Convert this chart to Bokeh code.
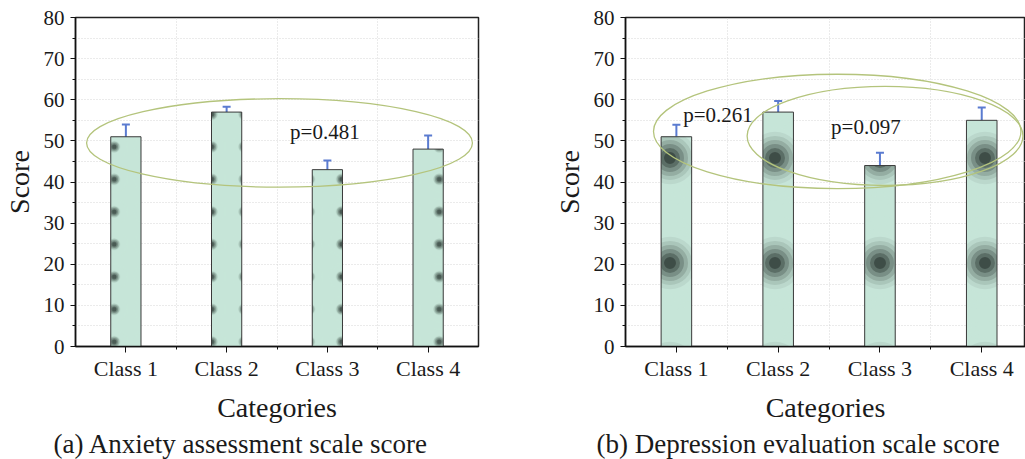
from bokeh.plotting import figure
from bokeh.layouts import row
from bokeh.models import (ColumnDataSource, Range1d, FixedTicker, SingleIntervalTicker,
                          Whisker, TeeHead, Title)
from bokeh.core.properties import value
from bokeh.embed import file_html
from bokeh.resources import INLINE

categories = ["Class 1", "Class 2", "Class 3", "Class 4"]
anxiety_scores = [51, 57, 43, 48]
anxiety_errors = [3.0, 1.3, 2.2, 3.3]
depression_scores = [51, 57, 44, 55]
depression_errors = [2.9, 2.7, 3.1, 3.1]
anxiety_pvalues = ["p=0.481"]
depression_pvalues = ["p=0.261", "p=0.097"]
captions = ["(a) Anxiety assessment scale score", "(b) Depression evaluation scale score"]

FONT = "Liberation Serif"
BAR_FILL = "#c6e5d8"
DOT_COLOR = "#2b3833"
ERR_COLOR = "#5a7bd0"
ELL_COLOR = "#b4c47c"


def ring_weights(scale, radii):
    # a ring hatch of radius scale/4 and weight w covers radii [scale/4 - w/2, scale/4 + w/2]
    return [2 * (scale / 4 - r) for r in radii]


def make_panel(scores, errors, caption, width, left_border, right_border, x_end,
               tex, cap_offset):
    centers = [i + 0.5 for i in range(len(categories))]
    src = ColumnDataSource(dict(
        x=centers, top=scores,
        upper=[s + e for s, e in zip(scores, errors)],
        lower=[s - e for s, e in zip(scores, errors)],
    ))
    p = figure(width=width, height=459, output_backend="svg", toolbar_location=None,
               x_range=Range1d(0, x_end), y_range=Range1d(0, 80),
               min_border_left=left_border, min_border_right=right_border,
               min_border_top=17, min_border_bottom=113)
    p.background_fill_color = "white"
    p.border_fill_color = "white"
    p.outline_line_color = "#222222"
    p.outline_line_width = 1.5

    scale = tex["scale"]
    # bar fill with a dark dot texture
    p.vbar(x="x", top="top", width=0.3, source=src, fill_color=BAR_FILL, line_color=None,
           hatch_pattern=value("dot"), hatch_scale=scale, hatch_color=DOT_COLOR,
           hatch_alpha=tex["dot_alpha"])
    # soften the dots: rings in the bar colour fade their outer parts
    weights = ring_weights(scale, tex["radii"])
    for wgt, alpha in zip(weights, tex["alphas"]):
        p.vbar(x="x", top="top", width=0.3, source=src, fill_color=None, line_color=None,
               hatch_pattern=value("ring"), hatch_scale=scale, hatch_weight=wgt,
               hatch_color=BAR_FILL, hatch_alpha=alpha)
    # outline
    p.vbar(x="x", top="top", width=0.3, source=src, fill_color=None,
           line_color="#3a3a3a", line_width=1)

    w = Whisker(base="x", upper="upper", lower="lower", source=src,
                line_color=ERR_COLOR, line_width=2,
                upper_head=TeeHead(size=8, line_color=ERR_COLOR, line_width=2),
                lower_head=TeeHead(size=8, line_color=ERR_COLOR, line_width=2))
    p.add_layout(w)

    # x axis
    xa = p.xaxis[0]
    xa.ticker = FixedTicker(ticks=centers, minor_ticks=[1, 2, 3])
    xa.major_label_overrides = {c: lab for c, lab in zip(centers, categories)}
    xa.axis_label = "Categories"
    xa.axis_label_text_font = FONT
    xa.axis_label_text_font_size = "28px"
    xa.axis_label_text_font_style = "normal"
    xa.axis_label_text_color = "#1a1a1a"
    xa.axis_label_standoff = 8
    xa.major_label_text_font = FONT
    xa.major_label_text_font_size = "22px"
    xa.major_label_text_color = "#1a1a1a"
    xa.major_label_standoff = 3
    xa.major_tick_in = 0
    xa.major_tick_out = 6
    xa.minor_tick_in = 0
    xa.minor_tick_out = 3
    xa.axis_line_width = 1.5
    xa.axis_line_color = "#111111"
    xa.major_tick_line_color = "#111111"
    xa.minor_tick_line_color = "#111111"

    # y axis
    ya = p.yaxis[0]
    ya.ticker = SingleIntervalTicker(interval=10, num_minor_ticks=2)
    ya.axis_label = "Score"
    ya.axis_label_text_font = FONT
    ya.axis_label_text_font_size = "28px"
    ya.axis_label_text_font_style = "normal"
    ya.axis_label_text_color = "#1a1a1a"
    ya.axis_label_standoff = 6
    ya.major_label_text_font = FONT
    ya.major_label_text_font_size = "21px"
    ya.major_label_text_color = "#1a1a1a"
    ya.major_label_standoff = 6
    ya.major_tick_in = 0
    ya.major_tick_out = 5
    ya.minor_tick_in = 0
    ya.minor_tick_out = 3
    ya.axis_line_width = 1.5
    ya.axis_line_color = "#111111"
    ya.major_tick_line_color = "#111111"
    ya.minor_tick_line_color = "#111111"

    # grids
    p.xgrid.ticker = FixedTicker(ticks=[1, 2, 3])
    p.xgrid.grid_line_color = "#d6d6d6"
    p.xgrid.grid_line_dash = "1 2"
    p.ygrid.grid_line_color = None
    p.ygrid.minor_grid_line_color = "#d6d6d6"
    p.ygrid.minor_grid_line_dash = "1 2"

    t = Title(text=caption, align="left", offset=cap_offset, text_font=FONT,
              text_font_size="27px", text_font_style="normal", text_color="#1a1a1a",
              standoff=2)
    p.add_layout(t, "below")
    return p


tex_left = dict(scale=32.5, dot_alpha=0.8, radii=[2.5, 4.0, 5.5], alphas=[0.4, 0.5, 1.0])
tex_right = dict(scale=105, dot_alpha=0.88, radii=[6.0, 10.0, 14.0, 18.0, 22.0],
                 alphas=[0.22, 0.28, 0.35, 0.45, 0.6])

p1 = make_panel(anxiety_scores, anxiety_errors, captions[0], 512, 72, 34, 4.0, tex_left, -22)
p1.ellipse(x=[2.025], y=[49.5], width=[3.83], height=[21.5], fill_color=None,
           line_color=ELL_COLOR, line_width=1.3)
p1.text(x=[2.13], y=[52.1], text=anxiety_pvalues, text_font=value(FONT),
        text_font_size="21px", text_color="#1a1a1a", text_baseline="alphabetic",
        text_align="left")

p2 = make_panel(depression_scores, depression_errors, captions[1], 513, 113, 0, 3.93, tex_right, -29)
p2.ellipse(x=[2.08, 2.55], y=[52.3, 51.2], width=[3.61, 2.71], height=[27.8, 24.1],
           fill_color=None, line_color=ELL_COLOR, line_width=1.3)
p2.text(x=[0.567, 2.02], y=[56.2, 53.4], text=depression_pvalues, text_font=value(FONT),
        text_font_size="21px", text_color="#1a1a1a", text_baseline="alphabetic",
        text_align="left")

layout = row(p1, p2)
open("out.html", "w").write(file_html(layout, INLINE))
